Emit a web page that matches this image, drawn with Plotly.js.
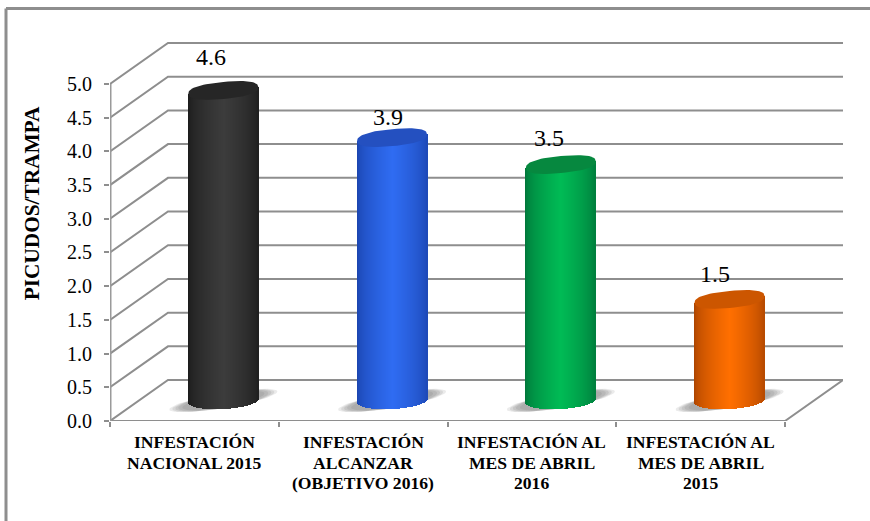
<!DOCTYPE html>
<html><head><meta charset="utf-8">
<script src="https://cdn.plot.ly/plotly-3.0.1.min.js"></script>
<style>html,body{margin:0;padding:0;background:#fff}#c{width:870px;height:521px}</style>
</head><body><div id="c"></div>
<script>
// ---- data ----
const categories = [
  ["INFESTACIÓN","NACIONAL 2015"],
  ["INFESTACIÓN","ALCANZAR","(OBJETIVO 2016)"],
  ["INFESTACIÓN AL","MES DE ABRIL","2016"],
  ["INFESTACIÓN AL","MES DE ABRIL","2015"]
];
const values = [4.6, 3.9, 3.5, 1.5];
const yTicks = [0,0.5,1,1.5,2,2.5,3,3.5,4,4.5,5];
const xTicks = [0,1,2,3,4];
const yTitle = "PICUDOS/TRAMPA";
// ---- style ----
const edgeColors   = ["#1c1c1c","#1b45b0","#00773a","#ad4500"];
const centerColors = ["#3c3c3c","#2f6cf2","#00bb55","#ff6f00"];
const capColors    = ["#262626","#2450c0","#06883f","#cc5600"];
const labelDx = [-12,-4,-12,-15];
const labelDy = [33,21,27,25];
const FONT = '"Liberation Serif","Times New Roman",serif';
const GRID = "#8e8e8e";
// ---- geometry of the fake 3-D box ----
const L=110,R=843,T=41,B=421.5,W=870,H=521;
const PX=168.75, PY=67.5;           // pixels per category / per value unit
const DX=58/PX, DY=41/PY;           // depth offset in data units
const XMAX=(R-L)/PX, YMAX=(B-T)/PY;
const A=35, TILT=3.2, BK=8.5, STRIPS=70;
const px=x=>(x-L)/(R-L), py=y=>(B-y)/(B-T);

function ellipse(cx,cy,a,tilt,b,round){
  const xs=[],ys=[];
  for(let i=0;i<=72;i++){
    const t=i/72*2*Math.PI, c=Math.cos(t), s=Math.sin(t);
    const cc=Math.sign(c)*Math.pow(Math.abs(c),round), ss=Math.sign(s)*Math.pow(Math.abs(s),round);
    xs.push(cx+a*cc/PX); ys.push(cy+(tilt*cc+b*ss)/PY);
  }
  return {x:xs,y:ys};
}
function hex(c){return [1,3,5].map(i=>parseInt(c.substr(i,2),16));}
function mix(c1,c2,f){
  const a=hex(c1),b=hex(c2);
  return "rgb("+a.map((v,i)=>Math.round(v+(b[i]-v)*f)).join(",")+")";
}

const traces=[];
// grid on walls and floor
const gx=[],gy=[];
yTicks.forEach(v=>{ gx.push(0,DX,4+DX,null); gy.push(v,v+DY,v+DY,null); });
gx.push(4+DX,4,0,null); gy.push(DY,0,0,null);
traces.push({type:"scatter",mode:"lines",x:gx,y:gy,line:{color:GRID,width:2},hoverinfo:"skip",showlegend:false,connectgaps:false,cliponaxis:false});
// left wall
traces.push({type:"scatter",mode:"lines",x:[0,0],y:[0,5],line:{color:"#9a9a9a",width:3},hoverinfo:"skip",showlegend:false,cliponaxis:false});
// floor shadows
values.forEach((v,i)=>{
  const cx=i+0.5+DX/2, cy=DY/2;
  [[54,9,7.5,0.16],[51,8.5,7.5,0.18],[48,8,7.5,0.2],[45,7.5,7.5,0.2],[41,7,7,0.22]].forEach(s=>{
    const e=ellipse(cx,cy,s[0],s[1],s[2],1);
    traces.push({type:"scatter",mode:"lines",x:e.x,y:e.y,fill:"toself",fillcolor:"rgba(130,130,130,"+s[3]+")",line:{width:0},hoverinfo:"skip",showlegend:false});
  });
});
// cylinders: bodies as narrow shaded bars, caps as filled outlines
values.forEach((v,i)=>{
  const cx=i+0.5+DX/2, base=DY/2, top=v+DY/2;
  const xs=[],bs=[],hs=[],cs=[];
  for(let k=0;k<STRIPS;k++){
    const u=-1+(2*k+1)/STRIPS;
    const low=base+(TILT*0.6*u-BK*Math.sqrt(1-u*u))/PY;
    const up=top+TILT*u/PY;
    xs.push(cx+u*A/PX); bs.push(low); hs.push(up-low);
    const f=Math.pow(Math.max(0,1-Math.abs(u-0.02)),0.6);
    cs.push(mix(edgeColors[i],centerColors[i],f));
  }
  traces.push({type:"bar",x:xs,y:hs,base:bs,width:2*A/PX/STRIPS*1.02,marker:{color:cs,line:{width:0}},
    xaxis:"x2",yaxis:"y2",hoverinfo:"skip",showlegend:false});
  const e=ellipse(cx,top,A,TILT,BK,0.82);
  traces.push({type:"scatter",mode:"lines",x:e.x,y:e.y,fill:"toself",fillcolor:capColors[i],line:{width:0},
    xaxis:"x2",yaxis:"y2",hoverinfo:"skip",showlegend:false});
});

const annotations=[];
values.forEach((v,i)=>{
  annotations.push({xref:"x",yref:"y",x:i+0.5+DX/2,y:v+DY/2,text:v.toFixed(1),showarrow:false,
    xshift:labelDx[i],yshift:labelDy[i],font:{family:FONT,size:24,color:"#000"},xanchor:"center",yanchor:"middle"});
});
categories.forEach((lines,i)=>{
  lines.forEach((t,j)=>{
    annotations.push({xref:"x",yref:"paper",x:i+0.5,y:py(443+j*20.5),text:t,showarrow:false,
      font:{family:FONT,size:17.6,color:"#000",weight:700},xanchor:"center",yanchor:"middle"});
  });
});
annotations.push({xref:"paper",yref:"paper",x:px(32),y:py(203.5),text:yTitle,textangle:-90,showarrow:false,
  font:{family:FONT,size:21.3,color:"#000",weight:700},xanchor:"center",yanchor:"middle"});

const hidden={showgrid:false,zeroline:false,showticklabels:false,ticks:"",showline:false};
const frameLine={color:"#8e8e8e",width:3};
const layout={
  width:W,height:H,paper_bgcolor:"#fff",plot_bgcolor:"rgba(0,0,0,0)",showlegend:false,
  margin:{l:L,r:W-R,t:T,b:H-B,pad:0},barmode:"overlay",bargap:0,
  xaxis:{range:[0,XMAX],tickmode:"array",tickvals:xTicks,ticks:"outside",ticklen:5,tickwidth:2,tickcolor:GRID,showticklabels:false,showgrid:false,zeroline:false,showline:false,fixedrange:true},
  yaxis:{range:[0,YMAX],tickmode:"array",tickvals:yTicks,ticktext:yTicks.map(v=>v.toFixed(1)),ticks:"outside",ticklen:5,tickwidth:2,tickcolor:GRID,ticklabelstandoff:8,
    tickfont:{family:FONT,size:20,color:"#000"},showgrid:false,zeroline:false,showline:false,fixedrange:true},
  xaxis2:Object.assign({range:[0,XMAX],overlaying:"x",anchor:"y2",fixedrange:true},hidden),
  yaxis2:Object.assign({range:[0,YMAX],overlaying:"y",anchor:"x2",fixedrange:true},hidden),
  annotations:annotations,
  shapes:[
    {type:"line",xref:"paper",yref:"paper",x0:px(6),x1:px(871),y0:py(8.5),y1:py(8.5),line:frameLine},
    {type:"line",xref:"paper",yref:"paper",x0:px(6),x1:px(6),y0:py(8.5),y1:py(522),line:frameLine}
  ]
};
Plotly.newPlot("c",traces,layout,{displayModeBar:false,responsive:false});
</script></body></html>
